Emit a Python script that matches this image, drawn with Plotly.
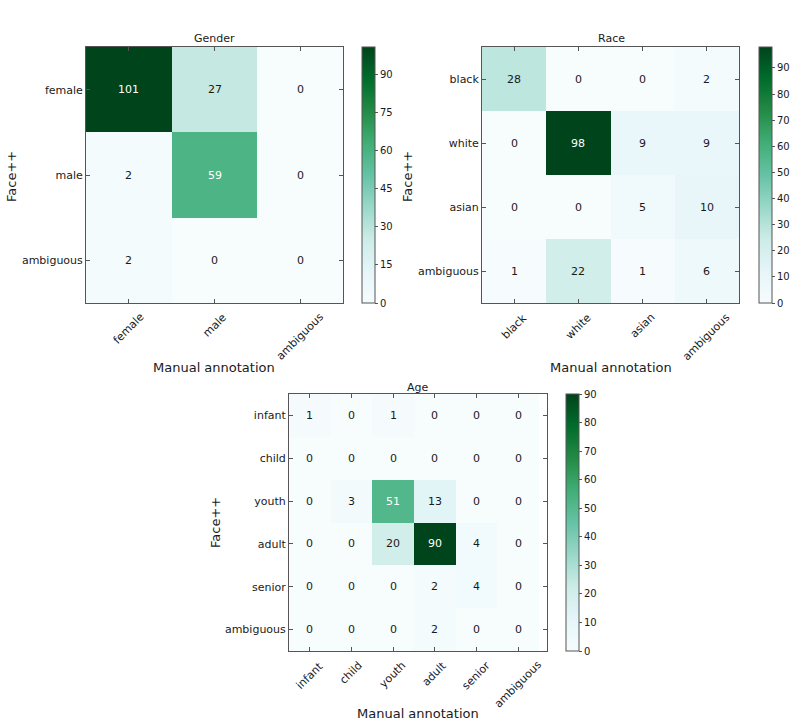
import plotly.graph_objects as go

# ---------------- data ----------------
gender_labels = ["female", "male", "ambiguous"]
gender_values = [[101, 27, 0],
                 [2, 59, 0],
                 [2, 0, 0]]

race_labels = ["black", "white", "asian", "ambiguous"]
race_values = [[28, 0, 0, 2],
               [0, 98, 9, 9],
               [0, 0, 5, 10],
               [1, 22, 1, 6]]

age_labels = ["infant", "child", "youth", "adult", "senior", "ambiguous"]
age_values = [[1, 0, 1, 0, 0, 0],
              [0, 0, 0, 0, 0, 0],
              [0, 3, 51, 13, 0, 0],
              [0, 0, 20, 90, 4, 0],
              [0, 0, 0, 2, 4, 0],
              [0, 0, 0, 2, 0, 0]]

titles = ["Gender", "Race", "Age"]
x_title = "Manual annotation"
y_title = "Face++"
cbar_dticks = [15, 10, 10]

# ---------------- styling ----------------
W, H = 792, 727
FONT = "DejaVu Sans"
TXT = "#1a1a1a"
LINE = "#555555"
BUGN = [[0.0, "rgb(247,252,253)"], [0.125, "rgb(229,245,249)"],
        [0.25, "rgb(204,236,230)"], [0.375, "rgb(153,216,201)"],
        [0.5, "rgb(102,194,164)"], [0.625, "rgb(65,174,118)"],
        [0.75, "rgb(35,139,69)"], [0.875, "rgb(0,109,44)"],
        [1.0, "rgb(0,68,27)"]]


def fx(px):
    return px / W


def fy(py):
    return 1 - py / H


# plot boxes in pixels: (left, top, right, bottom), colorbar left
panels = [
    dict(box=(86, 47, 343, 303), cb=362, title=(214, 39), xt=(214, 367), yt=(12, 177)),
    dict(box=(482, 47, 739, 303), cb=759, title=(611, 39), xt=(611, 367), yt=(408, 177)),
    dict(box=(289, 394, 547, 651), cb=566, title=(418, 387), xt=(418, 713), yt=(215, 523)),
]
datasets = [(gender_labels, gender_values), (race_labels, race_values), (age_labels, age_values)]

fig = go.Figure()
annotations = []
layout_axes = {}

for i, (p, (labels, vals)) in enumerate(zip(panels, datasets)):
    n = "" if i == 0 else str(i + 1)
    xa, ya = "x" + n, "y" + n
    l, t, r, b = p["box"]
    vmax = max(max(row) for row in vals)
    fig.add_trace(go.Heatmap(
        z=vals, x=labels, y=labels, xaxis=xa, yaxis=ya,
        colorscale=BUGN, zmin=0, zmax=vmax, hoverinfo="z",
        colorbar=dict(
            x=fx(p["cb"]), xanchor="left", xref="paper",
            y=fy(b), yanchor="bottom", yref="paper",
            len=b - t, lenmode="pixels", thickness=13, thicknessmode="pixels",
            xpad=0, ypad=0, outlinecolor=LINE, outlinewidth=1,
            ticks="outside", ticklen=3, tickcolor=LINE,
            tick0=0, dtick=cbar_dticks[i],
            tickfont=dict(family=FONT, size=10, color=TXT),
        ),
    ))
    axis_common = dict(showgrid=False, zeroline=False, showline=True, mirror="ticks",
                       linecolor=LINE, linewidth=1, ticks="inside", ticklen=4,
                       tickcolor=LINE, fixedrange=True)
    layout_axes["xaxis" + n] = dict(axis_common, domain=[fx(l), fx(r)], anchor=ya,
                                    showticklabels=False, type="category")
    layout_axes["yaxis" + n] = dict(axis_common, domain=[fy(b), fy(t)], anchor=xa,
                                    autorange="reversed", type="category",
                                    tickfont=dict(family=FONT, size=11, color=TXT))
    # cell values
    for ri, row in enumerate(vals):
        for ci, v in enumerate(row):
            annotations.append(dict(
                x=labels[ci], y=labels[ri], xref=xa, yref=ya, text=str(v),
                showarrow=False, xanchor="center", yanchor="middle",
                font=dict(family=FONT, size=11, color="white" if v > vmax / 2 else TXT)))
    # rotated x tick labels
    for lab in labels:
        annotations.append(dict(
            x=lab, y=fy(b), xref=xa, yref="paper", text=lab, showarrow=False,
            textangle=-45, xanchor="center", yanchor="top", yshift=-5,
            font=dict(family=FONT, size=11, color=TXT)))
    # titles
    tx, ty = p["title"]
    annotations.append(dict(x=fx(tx), y=fy(ty), xref="paper", yref="paper",
                            text=titles[i], showarrow=False,
                            xanchor="center", yanchor="middle",
                            font=dict(family=FONT, size=11, color=TXT)))
    ax, ay = p["xt"]
    annotations.append(dict(x=fx(ax), y=fy(ay), xref="paper", yref="paper",
                            text=x_title, showarrow=False,
                            xanchor="center", yanchor="middle",
                            font=dict(family=FONT, size=13, color=TXT)))
    yx, yy = p["yt"]
    annotations.append(dict(x=fx(yx), y=fy(yy), xref="paper", yref="paper",
                            text=y_title, showarrow=False, textangle=-90,
                            xanchor="center", yanchor="middle",
                            font=dict(family=FONT, size=13, color=TXT)))

fig.update_layout(
    width=W, height=H, margin=dict(l=0, r=0, t=0, b=0),
    paper_bgcolor="white", plot_bgcolor="white",
    font=dict(family=FONT, color=TXT),
    annotations=annotations, showlegend=False,
    **layout_axes,
)

fig.write_html("out.html", config={"displayModeBar": False},
               post_script="document.body.style.margin='0';document.body.style.padding='0';")
